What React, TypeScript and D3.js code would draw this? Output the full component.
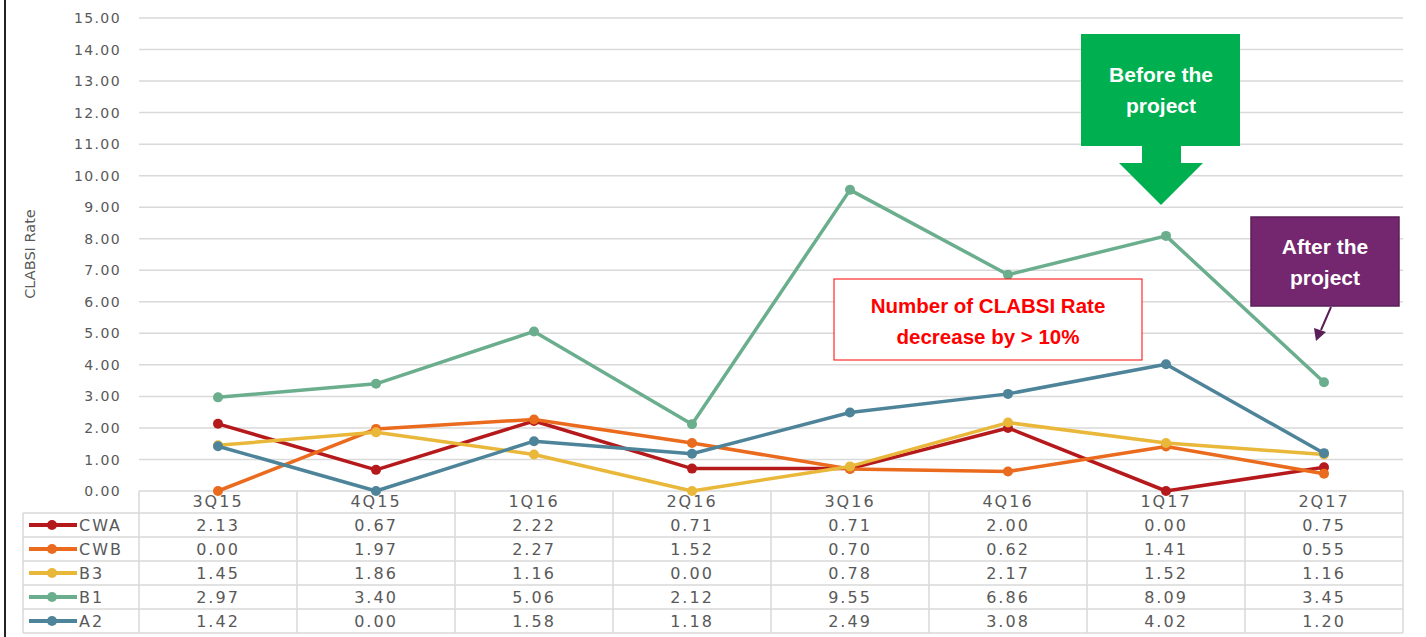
import React, { useEffect, useRef } from "react";
import * as d3 from "d3";

// quarters along the x axis
const quarters = ["3Q15", "4Q15", "1Q16", "2Q16", "3Q16", "4Q16", "1Q17", "2Q17"];

// CLABSI rate per unit
const cwa = [2.13, 0.67, 2.22, 0.71, 0.71, 2.0, 0.0, 0.75];
const cwb = [0.0, 1.97, 2.27, 1.52, 0.7, 0.62, 1.41, 0.55];
const b3 = [1.45, 1.86, 1.16, 0.0, 0.78, 2.17, 1.52, 1.16];
const b1 = [2.97, 3.4, 5.06, 2.12, 9.55, 6.86, 8.09, 3.45];
const a2 = [1.42, 0.0, 1.58, 1.18, 2.49, 3.08, 4.02, 1.2];

const seriesNames = ["CWA", "CWB", "B3", "B1", "A2"];
const seriesColors = ["#B5191B", "#EA6A1E", "#E9B83A", "#6BAE8E", "#4E8499"];

const yTicks = d3.range(0, 16);

const FONT = "'DejaVu Sans', sans-serif";
const GREY = "#595959";

const App = () => {
  const ref = useRef(null);

  useEffect(() => {
    const width = 1426;
    const height = 637;
    const series = [cwa, cwb, b3, b1, a2].map((values, i) => ({
      name: seriesNames[i],
      color: seriesColors[i],
      values,
    }));

    const svg = d3.select(ref.current);
    svg.selectAll("*").remove();
    svg.attr("width", width).attr("height", height);

    const plotLeft = 139;
    const plotRight = 1403;
    const x = d3.scaleBand().domain(quarters).range([plotLeft, plotRight]);
    const y = d3.scaleLinear().domain([0, 15]).range([491, 18]);
    const cx = (q) => x(q) + x.bandwidth() / 2;

    svg.append("rect").attr("width", width).attr("height", height).attr("fill", "#fff");

    // left frame edge
    svg
      .append("line")
      .attr("x1", 5).attr("x2", 5)
      .attr("y1", 0).attr("y2", height)
      .attr("stroke", "#222")
      .attr("stroke-width", 2);

    // gridlines + tick labels
    const grid = svg.append("g");
    grid
      .selectAll("line")
      .data(yTicks)
      .join("line")
      .attr("x1", plotLeft)
      .attr("x2", plotRight)
      .attr("y1", (d) => y(d))
      .attr("y2", (d) => y(d))
      .attr("stroke", "#D9D9D9")
      .attr("stroke-width", 1.5);
    grid
      .selectAll("text")
      .data(yTicks)
      .join("text")
      .attr("x", 121)
      .attr("y", (d) => y(d))
      .attr("dy", "0.36em")
      .attr("text-anchor", "end")
      .attr("font-family", FONT)
      .attr("font-size", 14)
      .attr("letter-spacing", 1.4)
      .attr("fill", GREY)
      .text((d) => d3.format(".2f")(d));

    // y title
    svg
      .append("text")
      .attr("transform", "translate(30,254) rotate(-90)")
      .attr("text-anchor", "middle")
      .attr("dy", "0.36em")
      .attr("font-family", FONT)
      .attr("font-size", 14.5)
      .attr("fill", GREY)
      .text("CLABSI Rate");

    // data table
    const tableLeft = 23;
    const headerTop = 491;
    const rowTop = 513;
    const rowH = 24;
    const tableBottom = rowTop + rowH * series.length;
    const table = svg.append("g").attr("stroke", "#D9D9D9").attr("stroke-width", 1.5);
    const bounds = quarters.map((q) => x(q)).concat([plotRight]);
    table
      .selectAll("line.v")
      .data(bounds)
      .join("line")
      .attr("class", "v")
      .attr("x1", (d) => d)
      .attr("x2", (d) => d)
      .attr("y1", headerTop)
      .attr("y2", tableBottom);
    table
      .append("line")
      .attr("x1", tableLeft).attr("x2", tableLeft)
      .attr("y1", rowTop).attr("y2", tableBottom);
    table
      .selectAll("line.h")
      .data(d3.range(series.length + 1))
      .join("line")
      .attr("class", "h")
      .attr("x1", tableLeft)
      .attr("x2", plotRight)
      .attr("y1", (i) => rowTop + i * rowH)
      .attr("y2", (i) => rowTop + i * rowH);

    svg
      .append("g")
      .selectAll("text")
      .data(quarters)
      .join("text")
      .attr("x", (d) => cx(d))
      .attr("y", 501)
      .attr("dy", "0.36em")
      .attr("text-anchor", "middle")
      .attr("font-family", FONT)
      .attr("font-size", 16)
      .attr("letter-spacing", 2)
      .attr("fill", GREY)
      .text((d) => d);

    series.forEach((s, i) => {
      const ry = rowTop + i * rowH + rowH / 2;
      const g = svg.append("g");
      g.append("line")
        .attr("x1", 29).attr("x2", 77)
        .attr("y1", ry).attr("y2", ry)
        .attr("stroke", s.color)
        .attr("stroke-width", 4);
      g.append("circle").attr("cx", 52).attr("cy", ry).attr("r", 5).attr("fill", s.color);
      g.append("text")
        .attr("x", 79)
        .attr("y", ry)
        .attr("dy", "0.36em")
        .attr("font-family", FONT)
        .attr("font-size", 16)
        .attr("letter-spacing", 2)
        .attr("fill", GREY)
        .text(s.name);
      g.selectAll("text.v")
        .data(s.values)
        .join("text")
        .attr("class", "v")
        .attr("x", (d, j) => cx(quarters[j]))
        .attr("y", ry)
        .attr("dy", "0.36em")
        .attr("text-anchor", "middle")
        .attr("font-family", FONT)
        .attr("font-size", 16)
        .attr("letter-spacing", 2)
        .attr("fill", GREY)
        .text((d) => d3.format(".2f")(d));
    });

    // lines + markers
    const line = d3
      .line()
      .x((d, j) => cx(quarters[j]))
      .y((d) => y(d));
    series.forEach((s) => {
      const g = svg.append("g");
      g.append("path")
        .attr("d", line(s.values))
        .attr("fill", "none")
        .attr("stroke", s.color)
        .attr("stroke-width", 3.5)
        .attr("stroke-linejoin", "round");
      g.selectAll("circle")
        .data(s.values)
        .join("circle")
        .attr("cx", (d, j) => cx(quarters[j]))
        .attr("cy", (d) => y(d))
        .attr("r", 5)
        .attr("fill", s.color);
    });

    // annotations
    const note = svg.append("g").attr("font-family", "'Liberation Sans', Arial, sans-serif");
    // green block arrow
    note
      .append("path")
      .attr(
        "d",
        "M1081,34 H1240 V146 H1181 V163 H1203 L1161,205 L1119,163 H1142 V146 H1081 Z"
      )
      .attr("fill", "#00B050");
    note
      .selectAll("text.g")
      .data(["Before the", "project"])
      .join("text")
      .attr("class", "g")
      .attr("x", 1161)
      .attr("y", (d, i) => 74 + i * 31)
      .attr("dy", "0.36em")
      .attr("text-anchor", "middle")
      .attr("font-size", 21)
      .attr("font-weight", "bold")
      .attr("fill", "#fff")
      .text((d) => d);

    // purple box
    note
      .append("rect")
      .attr("x", 1251).attr("y", 217)
      .attr("width", 148).attr("height", 89)
      .attr("fill", "#74276F")
      .attr("stroke", "#5A1F57")
      .attr("stroke-width", 1.5);
    note
      .selectAll("text.p")
      .data(["After the", "project"])
      .join("text")
      .attr("class", "p")
      .attr("x", 1325)
      .attr("y", (d, i) => 246 + i * 31)
      .attr("dy", "0.36em")
      .attr("text-anchor", "middle")
      .attr("font-size", 21)
      .attr("font-weight", "bold")
      .attr("fill", "#fff")
      .text((d) => d);
    note
      .append("line")
      .attr("x1", 1331).attr("y1", 307)
      .attr("x2", 1321).attr("y2", 330)
      .attr("stroke", "#5A1F57")
      .attr("stroke-width", 2);
    note
      .append("path")
      .attr("d", "M1314,328 L1326,332 L1316,341 Z")
      .attr("fill", "#5A1F57");

    // red text box
    note
      .append("rect")
      .attr("x", 834).attr("y", 279)
      .attr("width", 308).attr("height", 81)
      .attr("fill", "#fff")
      .attr("stroke", "#FF0000")
      .attr("stroke-width", 1);
    note
      .selectAll("text.r")
      .data(["Number of CLABSI Rate", "decrease by > 10%"])
      .join("text")
      .attr("class", "r")
      .attr("x", 988)
      .attr("y", (d, i) => 306 + i * 31)
      .attr("dy", "0.36em")
      .attr("text-anchor", "middle")
      .attr("font-family", "'Liberation Sans Narrow', 'Liberation Sans', sans-serif")
      .attr("font-size", 20.5)
      .attr("font-weight", "bold")
      .attr("fill", "#FF0000")
      .text((d) => d);
  }, []);

  return (
    <svg ref={ref} style={{ position: "absolute", left: 0, top: 0, display: "block" }}></svg>
  );
};

export default App;
